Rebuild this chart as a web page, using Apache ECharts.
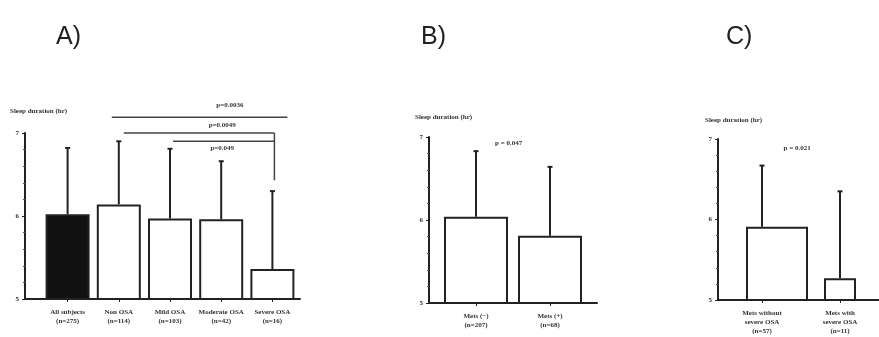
<!DOCTYPE html>
<html><head><meta charset="utf-8">
<script src="https://cdn.jsdelivr.net/npm/echarts@6/dist/echarts.min.js"></script>
<style>html,body{margin:0;padding:0;background:#fff}#c{width:879px;height:337px}</style>
</head><body><div id="c"></div>
<script>
const catsA = ['All subjects\n(n=275)','Non OSA\n(n=114)','Mild OSA\n(n=103)','Moderate OSA\n(n=42)','Severe OSA\n(n=16)'];
const meanA = [6.02, 6.14, 5.97, 5.96, 5.36];
const topA  = [6.82, 6.90, 6.81, 6.66, 6.30];
const catsB = ['Mets (\u2212)\n(n=207)','Mets (+)\n(n=68)'];
const meanB = [6.04, 5.81];
const topB  = [6.83, 6.64];
const catsC = ['Mets without\nsevere OSA\n(n=57)','Mets with\nsevere OSA\n(n=11)'];
const meanC = [5.91, 5.27];
const topC  = [6.67, 6.35];
const yMin = 5, yMax = 7, yStep = 1;
// brackets: [fromCat, toCat, yValue]
const bracketsA = [[1, 4, 7.19], [1, 4, 7.00], [2, 4, 6.90]];
const bracketDropA = 6.43;
// p-value labels: [category, fraction toward next category, yValue, text]
const pA = [[3, 0.17, 7.34, 'p=0.0036'], [3, 0.02, 7.09, 'p=0.0049'], [3, 0.02, 6.82, 'p=0.049']];
const pB = [[0, 0.44, 6.93, 'p = 0.047']];
const pC = [[0, 0.45, 6.89, 'p = 0.021']];

const INK = '#222';
const smallFont = {fontFamily: 'Liberation Serif', fontWeight: 'bold', fontSize: 7, color: '#333'};

function frameAxes(grid) {
  return {
    x: {gridIndex: grid, type: 'value', min: 0, max: 1, axisLine: {show: true, lineStyle: {color: INK, width: 2}},
        axisTick: {show: false}, axisLabel: {show: false}, splitLine: {show: false}},
    y: {gridIndex: grid, type: 'value', min: yMin, max: yMax, interval: yStep,
        axisLine: {show: true, lineStyle: {color: INK, width: 2}},
        axisTick: {show: true, length: 3, lineStyle: {color: INK}},
        minorTick: {show: true, splitNumber: 5, length: 2, lineStyle: {color: '#555'}},
        axisLabel: Object.assign({margin: 6}, smallFont), splitLine: {show: false}}
  };
}
function dataAxes(grid, cats) {
  return {
    x: {gridIndex: grid, type: 'category', data: cats,
        axisLine: {show: false},
        axisTick: {show: true, alignWithLabel: true, length: 3, lineStyle: {color: INK}},
        axisLabel: Object.assign({margin: 9, lineHeight: 9, interval: 0}, smallFont)},
    y: {gridIndex: grid, type: 'value', min: yMin, max: yMax, show: false}
  };
}
function errSeries(xi, means, tops) {
  return {
    type: 'custom', xAxisIndex: xi, yAxisIndex: xi, z: 3,
    data: means.map((m, i) => [i, m, tops[i]]),
    encode: {x: 0, y: [1, 2]},
    renderItem: function (params, api) {
      const p1 = api.coord([api.value(0), api.value(1)]);
      const p2 = api.coord([api.value(0), api.value(2)]);
      return {type: 'group', children: [
        {type: 'line', shape: {x1: p1[0], y1: p1[1], x2: p2[0], y2: p2[1]}, style: {stroke: INK, lineWidth: 2}},
        {type: 'line', shape: {x1: p2[0] - 2.5, y1: p2[1], x2: p2[0] + 2.5, y2: p2[1]}, style: {stroke: INK, lineWidth: 2}}
      ]};
    }
  };
}
function textSeries(xi, items) {
  return {
    type: 'custom', xAxisIndex: xi, yAxisIndex: xi, z: 4,
    data: items.map(d => [d[0], d[2]]),
    renderItem: function (params, api) {
      const it = items[params.dataIndex];
      const a = api.coord([it[0], it[2]]);
      const b = api.coord([it[0] + 1, it[2]]);
      const x = a[0] + it[1] * (b[0] - a[0]);
      return {type: 'text', x: x, y: a[1], style: {
        text: it[3], align: 'center', verticalAlign: 'middle',
        fill: '#333', font: 'bold 7px "Liberation Serif"'}};
    }
  };
}
function bracketSeries(xi, items, drop) {
  return {
    type: 'custom', xAxisIndex: xi, yAxisIndex: xi, z: 4,
    data: items,
    renderItem: function (params, api) {
      const i = params.dataIndex;
      const a = api.coord([api.value(0), api.value(2)]);
      const b = api.coord([api.value(1), api.value(2)]);
      let x1 = a[0], x2 = b[0];
      if (i === 0) { x1 -= 7; x2 += 15; } else if (i === 1) { x1 += 5; x2 += 2; } else { x1 += 3; x2 += 2; }
      const ch = [{type: 'line', shape: {x1: x1, y1: a[1], x2: x2, y2: a[1]}, style: {stroke: '#444', lineWidth: 1.5}}];
      if (i === 1) {
        const d = api.coord([api.value(1), drop]);
        ch.push({type: 'line', shape: {x1: x2, y1: a[1], x2: x2, y2: d[1]}, style: {stroke: '#444', lineWidth: 1.5}});
      }
      return {type: 'group', children: ch};
    }
  };
}

const fA = frameAxes(0), dA = dataAxes(1, catsA);
const fB = frameAxes(2), dB = dataAxes(3, catsB);
const fC = frameAxes(4), dC = dataAxes(5, catsC);

const barStyle = {color: '#fff', borderColor: INK, borderWidth: 2};
const axisTitle = {fontFamily: 'Liberation Serif', fontWeight: 'bold', fontSize: 7, color: '#333'};
const letter = {fontFamily: 'Liberation Sans', fontWeight: 'normal', fontSize: 25, color: '#222'};

const option = {
  backgroundColor: '#fff',
  animation: false,
  title: [
    {text: 'A)', left: 51, top: 20, textStyle: letter},
    {text: 'B)', left: 416, top: 20, textStyle: letter},
    {text: 'C)', left: 721, top: 20, textStyle: letter},
    {text: 'Sleep duration (hr)', left: 10, top: 108, padding: 0, textStyle: axisTitle},
    {text: 'Sleep duration (hr)', left: 415, top: 114, padding: 0, textStyle: axisTitle},
    {text: 'Sleep duration (hr)', left: 705, top: 117, padding: 0, textStyle: axisTitle}
  ],
  grid: [
    {left: 25, width: 275, top: 133, height: 166},
    {left: 42, width: 256, top: 133, height: 166},
    {left: 429, width: 168, top: 137, height: 166},
    {left: 439, width: 148, top: 137, height: 166},
    {left: 718, width: 161, top: 139, height: 161},
    {left: 723, width: 172, top: 139, height: 161}
  ],
  xAxis: [fA.x, dA.x, fB.x, dB.x, fC.x, dC.x],
  yAxis: [fA.y, dA.y, fB.y, dB.y, fC.y, dC.y],
  series: [
    {type: 'bar', xAxisIndex: 1, yAxisIndex: 1, barWidth: 44, z: 2,
     data: meanA.map((v, i) => i === 0 ? {value: v, itemStyle: {color: '#111', borderColor: INK, borderWidth: 2}} : v),
     itemStyle: barStyle},
    errSeries(1, meanA, topA),
    bracketSeries(1, bracketsA, bracketDropA),
    textSeries(1, pA),
    {type: 'bar', xAxisIndex: 3, yAxisIndex: 3, barWidth: 64, z: 2, data: meanB, itemStyle: barStyle},
    errSeries(3, meanB, topB),
    textSeries(3, pB),
    {type: 'bar', xAxisIndex: 5, yAxisIndex: 5, barWidth: 62, barGap: '-100%', z: 2,
     data: [meanC[0], '-'], itemStyle: barStyle},
    {type: 'bar', xAxisIndex: 5, yAxisIndex: 5, barWidth: 32, barGap: '-100%', z: 2,
     data: ['-', meanC[1]], itemStyle: barStyle},
    errSeries(5, meanC, topC),
    textSeries(5, pC)
  ]
};
echarts.init(document.getElementById('c'), null, {renderer: 'canvas'}).setOption(option);
</script>
</body></html>
